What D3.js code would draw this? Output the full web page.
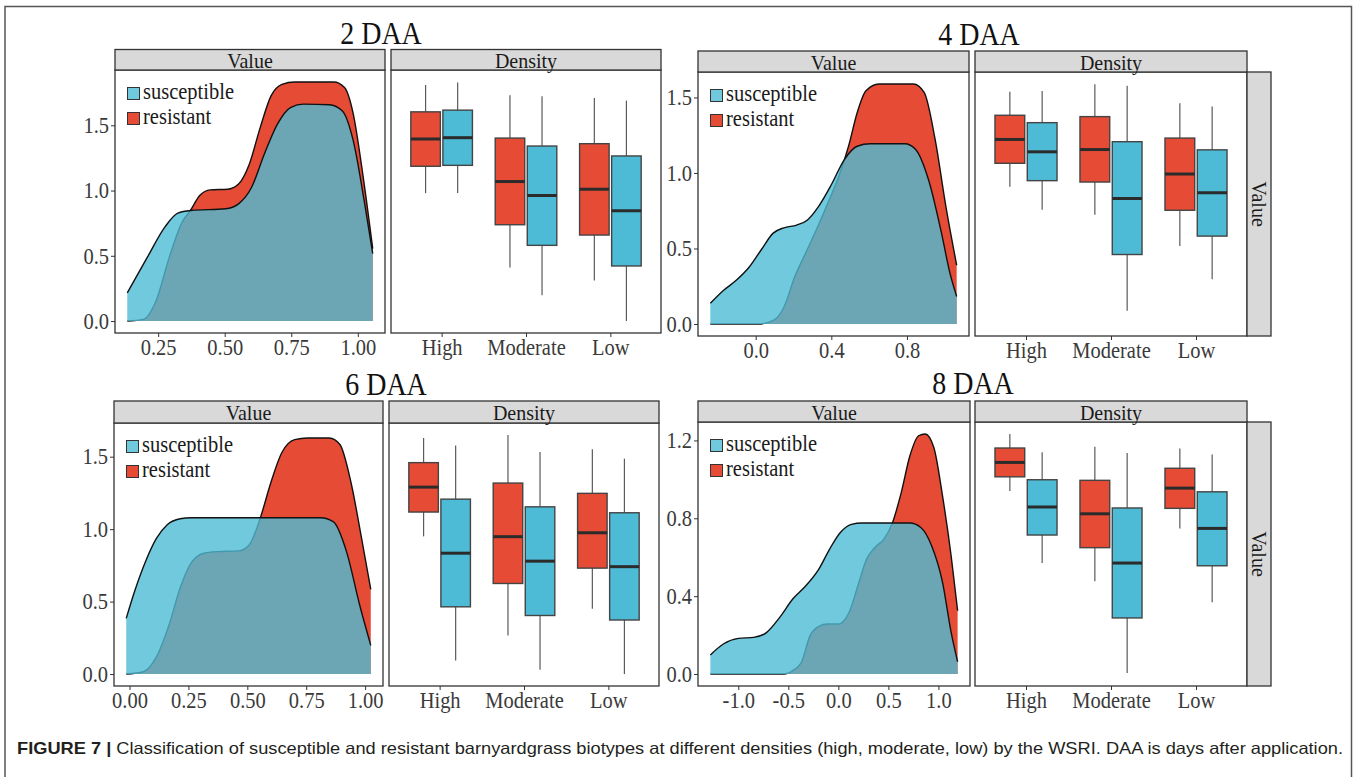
<!DOCTYPE html>
<html>
<head>
<meta charset="utf-8">
<script src="https://cdn.jsdelivr.net/npm/d3@7"></script>
<style>
  body { margin: 0; background: #fff; }
  svg text { font-family: "Liberation Serif", "Times New Roman", serif; }
</style>
</head>
<body>
<svg id="fig" width="1357" height="777"></svg>
<script>
// ---------------------------------------------------------------------
// Data
// ---------------------------------------------------------------------
const categories = ["High", "Moderate", "Low"];
const groups = ["susceptible", "resistant"];

// density curves: [value, density]
const susceptible2 = [[0.134,0.216],[0.21,0.491],[0.275,0.72],[0.324,0.827],[0.373,0.847],[0.503,0.86],[0.552,0.898],[0.601,1.025],[0.649,1.28],[0.698,1.509],[0.747,1.636],[0.796,1.662],[0.893,1.657],[0.942,1.61],[0.983,1.38],[1.024,0.92],[1.056,0.517]];
const resistant2 = [[0.134,0],[0.194,0.013],[0.243,0.16],[0.292,0.49],[0.34,0.758],[0.373,0.853],[0.406,0.962],[0.446,1.005],[0.511,1.01],[0.552,1.05],[0.592,1.2],[0.633,1.48],[0.674,1.725],[0.715,1.814],[0.763,1.832],[0.91,1.832],[0.95,1.789],[0.983,1.585],[1.015,1.178],[1.056,0.555]];

const susceptible4 = [[-0.24,0.137],[-0.171,0.222],[-0.103,0.289],[-0.034,0.377],[0.034,0.5],[0.091,0.6],[0.149,0.637],[0.217,0.655],[0.274,0.689],[0.332,0.777],[0.4,0.922],[0.469,1.089],[0.537,1.177],[0.606,1.193],[0.789,1.193],[0.846,1.155],[0.914,0.955],[0.983,0.6],[1.028,0.333],[1.063,0.182]];
const resistant4 = [[-0.24,0],[0.011,0],[0.091,0.022],[0.149,0.111],[0.206,0.311],[0.263,0.467],[0.32,0.622],[0.389,0.822],[0.446,1.0],[0.491,1.177],[0.537,1.4],[0.583,1.544],[0.652,1.589],[0.834,1.589],[0.891,1.533],[0.949,1.222],[1.006,0.777],[1.063,0.389]];

const susceptible6 = [[-0.014,0.384],[0.022,0.573],[0.068,0.777],[0.114,0.936],[0.16,1.031],[0.215,1.072],[0.261,1.079],[0.811,1.079],[0.866,1.05],[0.921,0.845],[0.976,0.482],[1.024,0.198]];
const resistant6 = [[-0.014,0],[0.059,0.016],[0.114,0.118],[0.169,0.346],[0.215,0.595],[0.261,0.766],[0.316,0.834],[0.371,0.845],[0.462,0.85],[0.508,0.891],[0.554,1.072],[0.6,1.322],[0.646,1.527],[0.701,1.618],[0.756,1.629],[0.848,1.629],[0.893,1.584],[0.94,1.322],[0.985,0.936],[1.024,0.584]];

const susceptible8 = [[-1.279,0.098],[-1.149,0.154],[-0.998,0.183],[-0.846,0.188],[-0.716,0.214],[-0.586,0.291],[-0.456,0.385],[-0.325,0.453],[-0.195,0.539],[-0.087,0.642],[0.022,0.728],[0.13,0.769],[0.238,0.776],[0.715,0.776],[0.824,0.753],[0.932,0.659],[1.041,0.471],[1.127,0.214],[1.192,0.063]];
const resistant8 = [[-1.279,0],[-0.542,0],[-0.456,0.017],[-0.369,0.06],[-0.283,0.197],[-0.195,0.245],[-0.109,0.257],[0,0.257],[0.108,0.317],[0.195,0.453],[0.282,0.59],[0.368,0.651],[0.455,0.693],[0.542,0.779],[0.629,0.933],[0.715,1.121],[0.802,1.224],[0.867,1.233],[0.954,1.164],[1.041,0.915],[1.127,0.607],[1.192,0.325]];

// boxplots per category: [lower whisker, Q1, median, Q3, upper whisker]
const resistantBox2   = [[0.98,1.186,1.395,1.603,1.809],[0.41,0.738,1.069,1.402,1.73],[0.311,0.659,1.01,1.359,1.71]];
const susceptibleBox2 = [[0.982,1.193,1.405,1.616,1.827],[0.198,0.58,0.962,1.341,1.723],[0.0,0.422,0.845,1.265,1.689]];
const resistantBox4   = [[0.909,1.064,1.222,1.382,1.537],[0.724,0.94,1.155,1.373,1.587],[0.517,0.753,0.993,1.231,1.462]];
const susceptibleBox4 = [[0.757,0.949,1.14,1.333,1.542],[0.087,0.46,0.831,1.207,1.577],[0.297,0.582,0.869,1.153,1.44]];
const resistantBox6   = [[0.95,1.118,1.29,1.459,1.629],[0.266,0.625,0.948,1.318,1.65],[0.45,0.731,0.975,1.247,1.552]];
const susceptibleBox6 = [[0.093,0.464,0.834,1.207,1.577],[0.03,0.404,0.779,1.154,1.532],[0.0,0.373,0.741,1.113,1.486]];
const resistantBox8   = [[0.94,1.013,1.087,1.161,1.233],[0.476,0.649,0.823,0.995,1.167],[0.748,0.851,0.955,1.057,1.159]];
const susceptibleBox8 = [[0.57,0.714,0.858,0.998,1.139],[0.005,0.288,0.57,0.853,1.135],[0.368,0.556,0.748,0.936,1.128]];

// tick labels
const xTicks2 = [0.25, 0.5, 0.75, 1.0];
const xTicks4 = [0.0, 0.4, 0.8];
const xTicks6 = [0.0, 0.25, 0.5, 0.75, 1.0];
const xTicks8 = [-1.0, -0.5, 0.0, 0.5, 1.0];
const yTicks2 = [0.0, 0.5, 1.0, 1.5];
const yTicks4 = [0.0, 0.5, 1.0, 1.5];
const yTicks6 = [0.0, 0.5, 1.0, 1.5];
const yTicks8 = [0.0, 0.4, 0.8, 1.2];

const captionLead = "FIGURE 7 |";
const captionText = " Classification of susceptible and resistant barnyardgrass biotypes at different densities (high, moderate, low) by the WSRI. DAA is days after application.";

// ---------------------------------------------------------------------
// Styles / layout
// ---------------------------------------------------------------------
const RED = "#E64B35";
const BLUE = "#4DBBD5";
const INK = "#333333";
const TICK_TEXT = "#3a3a3a";
const STRETCH = 1.1; // the scanned figure's text is slightly taller than wide

const panels = [
  { title: "2 DAA", titleX: 381, titleY: 44, left: 115, mid: 385, boxLeft: 391, right: 661, stripTop: 49.5, top: 70, bottom: 333,
    sus: susceptible2, res: resistant2, susBox: susceptibleBox2, resBox: resistantBox2,
    xTicks: xTicks2, yTicks: yTicks2, xDigits: 2, rowStrip: false },
  { title: "4 DAA", titleX: 979, titleY: 45, left: 698, mid: 969, boxLeft: 975, right: 1247, stripTop: 51, top: 72, bottom: 336,
    sus: susceptible4, res: resistant4, susBox: susceptibleBox4, resBox: resistantBox4,
    xTicks: xTicks4, yTicks: yTicks4, xDigits: 1, rowStrip: true },
  { title: "6 DAA", titleX: 386, titleY: 395, left: 114, mid: 383, boxLeft: 389, right: 659, stripTop: 401, top: 423, bottom: 686,
    sus: susceptible6, res: resistant6, susBox: susceptibleBox6, resBox: resistantBox6,
    xTicks: xTicks6, yTicks: yTicks6, xDigits: 2, rowStrip: false },
  { title: "8 DAA", titleX: 973, titleY: 394, left: 698, mid: 970, boxLeft: 975, right: 1247, stripTop: 401, top: 422, bottom: 686,
    sus: susceptible8, res: resistant8, susBox: susceptibleBox8, resBox: resistantBox8,
    xTicks: xTicks8, yTicks: yTicks8, xDigits: 1, rowStrip: true }
];

const svg = d3.select("#fig");

// outer frame (open at the bottom, as in the scan)
svg.append("path")
  .attr("d", "M5,777V6.5H1351.5V777")
  .attr("fill", "none")
  .attr("stroke", "#555")
  .attr("stroke-width", 1.5);

// ggplot-like 5% expansion
function expand(ext, f = 0.05) {
  const pad = (ext[1] - ext[0]) * f;
  return [ext[0] - pad, ext[1] + pad];
}

// text placed with translate + a small vertical stretch
function label(g, x, y, str, size) {
  return g.append("text")
    .attr("transform", `translate(${x},${y}) scale(1,${STRETCH})`)
    .style("font-size", size + "px")
    .text(str);
}

function styleAxis(g, vertical) {
  g.select(".domain").remove();
  g.selectAll(".tick line").attr("stroke", INK).attr("stroke-width", 1);
  g.selectAll(".tick text")
    .attr("fill", TICK_TEXT)
    .style("font-size", "20.5px")
    .style("font-family", "'Liberation Serif', serif")
    .each(function() {
      const t = d3.select(this);
      const tx = +t.attr("x") || 0, ty = +t.attr("y") || 0;
      t.attr("x", null).attr("y", null)
        .attr("transform", `translate(${tx},${vertical ? ty : ty - 1}) scale(1,${STRETCH})`);
    });
}

function strip(g, x0, x1, y0, y1, str, vertical) {
  g.append("rect")
    .attr("x", x0).attr("y", y0)
    .attr("width", x1 - x0).attr("height", y1 - y0)
    .attr("fill", "#D9D9D9").attr("stroke", INK).attr("stroke-width", 1.3);
  const cx = (x0 + x1) / 2, cy = (y0 + y1) / 2;
  const t = g.append("text")
    .attr("text-anchor", "middle")
    .attr("dominant-baseline", "central")
    .attr("fill", "#1a1a1a")
    .style("font-size", "20px")
    .text(str);
  if (vertical) {
    t.attr("transform", `translate(${cx},${cy}) rotate(90) scale(1,${STRETCH})`);
  } else {
    t.attr("transform", `translate(${cx},${cy + 1}) scale(1,${STRETCH})`);
  }
}

function drawPanel(p) {
  const g = svg.append("g");

  // scales: y shared by both facets of the row
  const allX = p.sus.concat(p.res).map(d => d[0]);
  const allY = p.sus.concat(p.res).map(d => d[1])
    .concat(p.susBox.flat(), p.resBox.flat());
  const x = d3.scaleLinear().domain(expand(d3.extent(allX))).range([p.left, p.mid]);
  const y = d3.scaleLinear().domain(expand(d3.extent(allY))).range([p.bottom, p.top]);
  const xb = d3.scalePoint().domain(categories).range([p.boxLeft, p.right]).padding(0.6);
  const step = xb.step();

  // panel backgrounds
  g.append("rect").attr("x", p.left).attr("y", p.top)
    .attr("width", p.mid - p.left).attr("height", p.bottom - p.top).attr("fill", "#fff");
  g.append("rect").attr("x", p.boxLeft).attr("y", p.top)
    .attr("width", p.right - p.boxLeft).attr("height", p.bottom - p.top).attr("fill", "#fff");

  // --- density curves ---
  const area = d3.area()
    .x(d => x(d[0])).y0(y(0)).y1(d => y(d[1]))
    .curve(d3.curveMonotoneX);
  const line = d3.line()
    .x(d => x(d[0])).y(d => y(d[1]))
    .curve(d3.curveMonotoneX);

  g.append("path").datum(p.res).attr("d", area).attr("fill", RED);
  g.append("path").datum(p.res).attr("d", line)
    .attr("fill", "none").attr("stroke", "#111").attr("stroke-width", 1.4);
  g.append("path").datum(p.sus).attr("d", area).attr("fill", BLUE).attr("fill-opacity", 0.8);
  g.append("path").datum(p.sus).attr("d", line)
    .attr("fill", "none").attr("stroke", "#111").attr("stroke-width", 1.4);

  // legend
  const lg = g.append("g").attr("transform", `translate(${p.left + 12},${p.top + 17})`);
  const legendItems = [
    { label: groups[0], color: BLUE, op: 0.8 },
    { label: groups[1], color: RED, op: 1 }
  ];
  legendItems.forEach((it, i) => {
    const row = lg.append("g").attr("transform", `translate(0,${i * 25})`);
    row.append("rect").attr("x", 0.5).attr("y", 0.5).attr("width", 12).attr("height", 12)
      .attr("fill", it.color).attr("fill-opacity", it.op)
      .attr("stroke", INK).attr("stroke-width", 1);
    label(row, 16, 4.5, it.label, 20.5)
      .attr("dominant-baseline", "central")
      .attr("fill", "#1a1a1a");
  });

  // --- boxplots ---
  const boxW = 0.35 * step;
  const sets = [
    { boxes: p.resBox, color: RED, off: -0.19 * step },
    { boxes: p.susBox, color: BLUE, off: 0.19 * step }
  ];
  sets.forEach(s => {
    s.boxes.forEach((b, i) => {
      const cx = xb(categories[i]) + s.off;
      const bg = g.append("g");
      bg.append("line").attr("x1", cx).attr("x2", cx).attr("y1", y(b[4])).attr("y2", y(b[3]))
        .attr("stroke", "#5a5a5a").attr("stroke-width", 1.2);
      bg.append("line").attr("x1", cx).attr("x2", cx).attr("y1", y(b[1])).attr("y2", y(b[0]))
        .attr("stroke", "#5a5a5a").attr("stroke-width", 1.2);
      bg.append("rect")
        .attr("x", cx - boxW / 2).attr("y", y(b[3]))
        .attr("width", boxW).attr("height", y(b[1]) - y(b[3]))
        .attr("fill", s.color).attr("stroke", "#444").attr("stroke-width", 1.4);
      bg.append("line").attr("x1", cx - boxW / 2).attr("x2", cx + boxW / 2)
        .attr("y1", y(b[2])).attr("y2", y(b[2]))
        .attr("stroke", "#2b2b2b").attr("stroke-width", 3);
    });
  });

  // panel borders
  [[p.left, p.mid], [p.boxLeft, p.right]].forEach(([a, b]) => {
    g.append("rect").attr("x", a).attr("y", p.top)
      .attr("width", b - a).attr("height", p.bottom - p.top)
      .attr("fill", "none").attr("stroke", INK).attr("stroke-width", 1.3);
  });

  // strips
  strip(g, p.left, p.mid, p.stripTop, p.top, "Value", false);
  strip(g, p.boxLeft, p.right, p.stripTop, p.top, "Density", false);
  if (p.rowStrip) strip(g, p.right, p.right + 24, p.top, p.bottom, "Value", true);

  // axes
  g.append("g").attr("transform", `translate(${p.left},0)`)
    .call(d3.axisLeft(y).tickValues(p.yTicks).tickSize(4).tickPadding(2)
      .tickFormat(d => d.toFixed(1)))
    .call(styleAxis, true);
  g.append("g").attr("transform", `translate(0,${p.bottom})`)
    .call(d3.axisBottom(x).tickValues(p.xTicks).tickSize(4).tickPadding(3)
      .tickFormat(d => d.toFixed(p.xDigits)))
    .call(styleAxis, false);
  g.append("g").attr("transform", `translate(0,${p.bottom})`)
    .call(d3.axisBottom(xb).tickSize(4).tickPadding(3))
    .call(styleAxis, false);

  // title
  label(g, p.titleX, p.titleY, p.title, 28)
    .attr("text-anchor", "middle")
    .attr("fill", "#111");
}

panels.forEach(drawPanel);

// caption
const cap = svg.append("text")
  .attr("x", 17).attr("y", 754)
  .attr("textLength", 1326)
  .attr("lengthAdjust", "spacingAndGlyphs")
  .attr("fill", "#231f20")
  .style("font-family", "'Liberation Sans', Arial, sans-serif")
  .style("font-size", "16.5px");
cap.append("tspan").style("font-weight", "bold").text(captionLead);
cap.append("tspan").text(captionText);
</script>
</body>
</html>
